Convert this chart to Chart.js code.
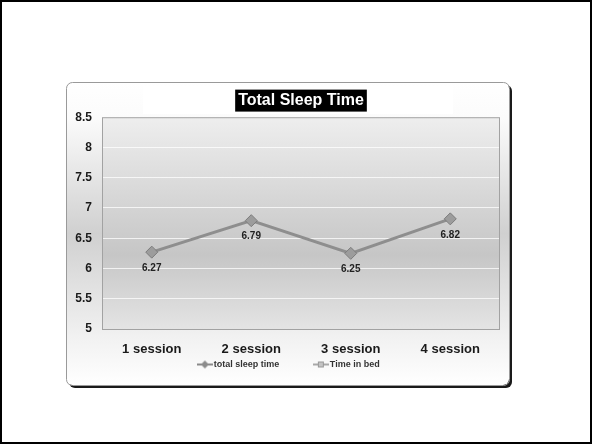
<!DOCTYPE html>
<html>
<head>
<meta charset="utf-8">
<script src="https://cdn.jsdelivr.net/npm/chart.js@4.4.1/dist/chart.umd.min.js"></script>
<style>
  html, body { margin: 0; padding: 0; background: #ffffff; }
  #wrap { position: relative; width: 592px; height: 444px; }
  canvas { display: block; }
</style>
</head>
<body>
<div id="wrap"><canvas id="c" width="592" height="444"></canvas></div>
<script>
// Sessions and mean hours per session
const categories = ['1 session', '2 session', '3 session', '4 session'];
const totalSleepTime = [6.27, 6.79, 6.25, 6.82];
const timeInBed = [null, null, null, null];
const yTicks = [5, 5.5, 6, 6.5, 7, 7.5, 8, 8.5];

const FONT = 'Arial, "Liberation Sans", sans-serif';

// Legend swatch: short line with a marker in the middle
function legendSwatch(kind) {
  const cv = document.createElement('canvas');
  cv.width = 16; cv.height = 10;
  const g = cv.getContext('2d');
  g.strokeStyle = kind === 'diamond' ? '#8a8a8a' : '#a8a8a8';
  g.lineWidth = 2;
  g.beginPath(); g.moveTo(0, 5); g.lineTo(16, 5); g.stroke();
  if (kind === 'diamond') {
    g.fillStyle = '#8c8c8c';
    g.beginPath(); g.moveTo(8, 1); g.lineTo(12, 5); g.lineTo(8, 9); g.lineTo(4, 5); g.closePath(); g.fill();
  } else {
    g.fillStyle = '#c4c4c4'; g.strokeStyle = '#999'; g.lineWidth = 1;
    g.fillRect(5, 2, 6, 6); g.strokeRect(5.5, 2.5, 5, 5);
  }
  return cv;
}

// Page frame, chart panel, plot-area shading and title box
const backdrop = {
  id: 'backdrop',
  beforeDraw(chart) {
    const ctx = chart.ctx;
    const W = chart.width, H = chart.height;
    ctx.save();
    ctx.fillStyle = '#ffffff';
    ctx.fillRect(0, 0, W, H);
    ctx.strokeStyle = '#000';
    ctx.lineWidth = 2;
    ctx.strokeRect(1, 1, W - 2, H - 2);

    // panel with shadow edge
    const px = 66, py = 82, pw = 443, ph = 303, r = 6;
    ctx.fillStyle = '#1a1a1a';
    ctx.beginPath(); ctx.roundRect(px + 3, py + 3, pw, ph, r); ctx.fill();
    const pg = ctx.createLinearGradient(0, py, 0, py + ph);
    pg.addColorStop(0, '#ffffff');
    pg.addColorStop(0.12, '#fbfbfb');
    pg.addColorStop(0.5, '#d0d0d0');
    pg.addColorStop(0.85, '#f2f2f2');
    pg.addColorStop(1, '#ffffff');
    ctx.fillStyle = pg;
    ctx.beginPath(); ctx.roundRect(px, py, pw, ph, r); ctx.fill();
    ctx.strokeStyle = '#9a9a9a'; ctx.lineWidth = 1;
    ctx.beginPath(); ctx.roundRect(px + 0.5, py + 0.5, pw, ph, r); ctx.stroke();

    // white band behind title
    ctx.fillStyle = '#ffffff';
    ctx.fillRect(143, 86, 310, 28);

    // plot area shading
    const a = chart.chartArea;
    const ag = ctx.createLinearGradient(0, a.top, 0, a.bottom);
    ag.addColorStop(0, '#eeeeee');
    ag.addColorStop(0.65, '#c6c6c6');
    ag.addColorStop(1, '#e4e4e4');
    ctx.fillStyle = ag;
    ctx.fillRect(a.left, a.top, a.right - a.left, a.bottom - a.top);

    // black box behind the title text
    const tb = chart.titleBlock;
    if (tb && tb.options.display) {
      ctx.font = tb.options.font.weight + ' ' + tb.options.font.size + 'px ' + FONT;
      const tw = ctx.measureText(tb.options.text).width;
      const cx = (tb.left + tb.right) / 2;
      const cy = tb.top + tb.options.padding.top + tb.options.font.size * 0.6;
      ctx.fillStyle = '#000';
      ctx.fillRect(cx - tw / 2 - 3, cy - 11, tw + 6, 22);
    }
    ctx.restore();
  },
  afterDraw(chart) {
    const a = chart.chartArea, ctx = chart.ctx;
    ctx.save();
    ctx.strokeStyle = '#a2a2a2'; ctx.lineWidth = 1;
    ctx.strokeRect(a.left + 0.5, a.top + 0.5, a.right - a.left - 1, a.bottom - a.top);
    ctx.restore();
  }
};

// Value labels under each point
const valueLabels = {
  id: 'valueLabels',
  afterDatasetsDraw(chart) {
    const ctx = chart.ctx;
    const meta = chart.getDatasetMeta(0);
    ctx.save();
    ctx.font = 'bold 10px ' + FONT;
    ctx.fillStyle = '#222';
    ctx.textAlign = 'center';
    ctx.textBaseline = 'middle';
    meta.data.forEach((pt, i) => {
      const v = chart.data.datasets[0].data[i];
      ctx.fillText(v.toFixed(2), pt.x, pt.y + 16);
    });
    ctx.restore();
  }
};

new Chart(document.getElementById('c'), {
  type: 'line',
  data: {
    labels: categories,
    datasets: [
      {
        label: 'total sleep time',
        data: totalSleepTime,
        borderColor: '#8e8e8e',
        borderWidth: 3,
        pointStyle: 'rectRot',
        pointRadius: 6,
        pointBackgroundColor: '#9c9c9c',
        pointBorderColor: '#7c7c7c',
        pointBorderWidth: 1,
        tension: 0
      },
      {
        label: 'Time in bed',
        data: timeInBed,
        borderColor: '#a8a8a8',
        borderWidth: 3,
        pointStyle: 'rect',
        pointRadius: 4,
        pointBackgroundColor: '#c4c4c4'
      }
    ]
  },
  options: {
    responsive: false,
    animation: false,
    devicePixelRatio: 1,
    layout: { padding: { left: 70, right: 82, top: 88, bottom: 59 } },
    plugins: {
      tooltip: { enabled: false },
      title: {
        display: true,
        fullSize: false,
        text: 'Total Sleep Time',
        color: '#ffffff',
        font: { family: FONT, size: 16, weight: 'bold' },
        padding: { top: 3, bottom: 7 }
      },
      legend: {
        position: 'bottom',
        labels: {
          font: { family: FONT, size: 9, weight: 'bold' },
          color: '#333',
          usePointStyle: true,
          padding: 37,
          generateLabels(chart) {
            return chart.data.datasets.map((ds, i) => ({
              text: ds.label,
              pointStyle: legendSwatch(i === 0 ? 'diamond' : 'square'),
              fillStyle: 'transparent',
              strokeStyle: 'transparent',
              lineWidth: 0,
              fontColor: '#333',
              hidden: false,
              datasetIndex: i
            }));
          }
        }
      }
    },
    scales: {
      x: {
        offset: true,
        grid: { display: false },
        border: { display: false },
        ticks: {
          color: '#1a1a1a',
          font: { family: FONT, size: 13, weight: 'bold' },
          mirror: true,
          padding: -28
        },
        afterFit(s) { s.height = -6; }
      },
      y: {
        min: 5, max: 8.5,
        afterBuildTicks(s) { s.ticks = yTicks.map(v => ({ value: v })); },
        grid: { color: 'rgba(255,255,255,0.75)', lineWidth: 1, drawTicks: false },
        border: { display: false },
        ticks: {
          color: '#1a1a1a',
          font: { family: FONT, size: 12, weight: 'bold' },
          padding: 10,
          callback: v => String(v)
        },
        afterFit(s) { s.width = 32; }
      },
      spacer: {
        axis: 'y',
        position: 'right',
        display: true,
        min: 5, max: 8.5,
        grid: { display: false, drawTicks: false },
        border: { display: false },
        ticks: { display: false },
        afterFit(s) { s.width = 10; }
      }
    }
  },
  plugins: [backdrop, valueLabels]
});
</script>
</body>
</html>
